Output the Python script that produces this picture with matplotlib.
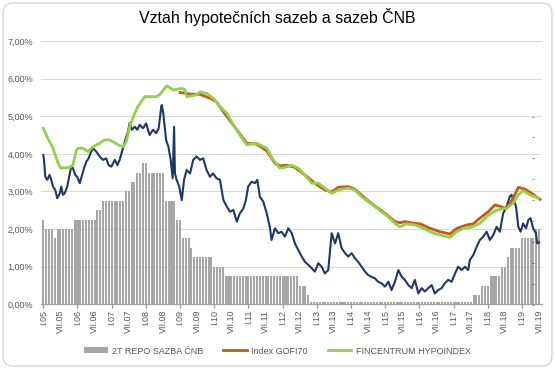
import numpy as np
import matplotlib
matplotlib.use("Agg")
import matplotlib.pyplot as plt
from matplotlib.patches import FancyBboxPatch, Patch
from matplotlib.lines import Line2D
from matplotlib.ticker import FuncFormatter

plt.rcParams['font.family'] = ['Liberation Sans', 'DejaVu Sans']

title = "Vztah hypotečních sazeb a sazeb ČNB"
series_names = ["2T REPO SAZBA ČNB", "Index GOFI70", "FINCENTRUM HYPOINDEX"]

# month index 0 = January 2005
x_tick_labels = ["I.05", "VII.05", "I.06", "VII.06", "I.07", "VII.07", "I.08", "VII.08",
                 "I.09", "VII.09", "I.10", "VII.10", "I.11", "VII.11", "I.12", "VII.12",
                 "I.13", "VII.13", "I.14", "VII.14", "I.15", "VII.15", "I.16", "VII.16",
                 "I.17", "VII.17", "I.18", "VII.18", "I.19", "VII.19"]
x_tick_months = [0, 6, 12, 18, 24, 30, 36, 42, 48, 54, 60, 66, 72, 78, 84, 90, 96, 102,
                 108, 114, 120, 126, 132, 138, 144, 150, 156, 162, 168, 174]
year_start_months = [0, 12, 24, 36, 48, 60, 72, 84, 96, 108, 120, 132, 144, 156, 168]

# 2T repo rate, monthly (Jan 2005 .. Jul 2019)
repo = [
    2.25, 2.00, 2.00, 2.00, 1.75, 2.00, 2.00, 2.00, 2.00, 2.00, 2.00, 2.25,  # 2005
    2.25, 2.25, 2.25, 2.25, 2.25, 2.25, 2.25, 2.50, 2.50, 2.75, 2.75, 2.75,  # 2006
    2.75, 2.75, 2.75, 2.75, 2.75, 3.00, 3.00, 3.25, 3.25, 3.50, 3.50, 3.75,  # 2007
    3.75, 3.50, 3.50, 3.50, 3.50, 3.50, 3.50, 2.75, 2.75, 2.75, 2.75, 2.25,  # 2008
    2.25, 1.75, 1.75, 1.75, 1.50, 1.25, 1.25, 1.25, 1.25, 1.25, 1.25, 1.25,  # 2009
    1.00, 1.00, 1.00, 1.00, 0.75, 0.75, 0.75, 0.75, 0.75, 0.75, 0.75, 0.75,  # 2010
    0.75, 0.75, 0.75, 0.75, 0.75, 0.75, 0.75, 0.75, 0.75, 0.75, 0.75, 0.75,  # 2011
    0.75, 0.75, 0.75, 0.75, 0.75, 0.75, 0.50, 0.50, 0.50, 0.25, 0.05, 0.05,  # 2012
    0.05, 0.05, 0.05, 0.05, 0.05, 0.05, 0.05, 0.05, 0.05, 0.05, 0.05, 0.05,  # 2013
    0.05, 0.05, 0.05, 0.05, 0.05, 0.05, 0.05, 0.05, 0.05, 0.05, 0.05, 0.05,  # 2014
    0.05, 0.05, 0.05, 0.05, 0.05, 0.05, 0.05, 0.05, 0.05, 0.05, 0.05, 0.05,  # 2015
    0.05, 0.05, 0.05, 0.05, 0.05, 0.05, 0.05, 0.05, 0.05, 0.05, 0.05, 0.05,  # 2016
    0.05, 0.05, 0.05, 0.05, 0.05, 0.05, 0.05, 0.25, 0.25, 0.25, 0.50, 0.50,  # 2017
    0.50, 0.75, 0.75, 0.75, 0.75, 1.00, 1.00, 1.25, 1.50, 1.50, 1.50, 1.50,  # 2018
    1.75, 1.75, 1.75, 1.75, 1.75, 2.00, 2.00,                                # 2019
]
repo_months = list(range(len(repo)))

# Fincentrum Hypoindex
green_t = [0.0, 1.6, 3.4, 5.2, 6.1, 9.3, 10.4, 11.6, 12.2, 13.9, 15.7, 17.4, 18.6, 19.8,
           21.5, 23.3, 24.5, 26.2, 28.0, 29.1, 30.3, 32.1, 33.2, 34.4, 35.6, 39.6, 40.8,
           42.6, 43.3, 45.6, 48.6, 49.7, 50.3, 53.8, 55.0, 57.3, 59.6, 62.0, 64.4, 66.7,
           69.0, 71.4, 74.9, 78.4, 80.7, 83.0, 84.8, 87.2, 89.5, 91.8, 94.2, 96.5, 98.8,
           101.2, 103.5, 107.0, 109.4, 111.7, 114.0, 116.4, 118.7, 121.1, 123.4, 125.2,
           127.5, 130.4, 132.2, 135.7, 138.0, 140.4, 142.7, 145.1, 147.4, 150.3, 153.2,
           155.6, 157.9, 160.2, 162.6, 164.9, 166.7, 168.4, 170.8, 173.7]
green_v = [4.68, 4.41, 4.15, 3.75, 3.62, 3.64, 3.70, 4.10, 4.15, 4.15, 4.06, 4.19, 4.24, 4.28,
           4.37, 4.37, 4.32, 4.24, 4.19, 4.32, 4.72, 5.08, 5.26, 5.39, 5.52, 5.52, 5.57,
           5.74, 5.81, 5.70, 5.74, 5.70, 5.52, 5.57, 5.65, 5.61, 5.48, 5.26, 5.08, 4.77,
           4.50, 4.24, 4.28, 4.15, 3.84, 3.62, 3.64, 3.70, 3.62, 3.44, 3.22, 3.22, 3.09,
           2.95, 3.04, 3.09, 3.04, 2.86, 2.73, 2.60, 2.46, 2.33, 2.15, 2.06,
           2.14, 2.11, 2.06, 1.93, 1.87, 1.82, 1.78, 1.93, 2.02, 2.05, 2.15,
           2.33, 2.46, 2.53, 2.55, 2.69, 2.91, 3.02, 2.91, 2.82]

# Index GOFI70
orange_t = [48.0, 51.5, 55.0, 58.5, 60.8, 63.2, 67.9, 71.4, 74.9, 78.4, 81.3, 83.0, 85.4,
            88.3, 91.8, 95.3, 98.8, 101.2, 103.5, 107.0, 109.4, 112.9, 116.4, 119.9, 123.4,
            125.2, 126.9, 130.4, 132.2, 135.7, 139.2, 142.7, 145.1, 148.6, 150.9, 153.2,
            156.1, 158.5, 160.2, 162.0, 163.9, 165.7, 166.7, 169.1, 171.4, 174.3]
orange_v = [5.63, 5.59, 5.58, 5.48, 5.38, 5.12, 4.64, 4.28, 4.26, 4.08, 3.75, 3.68, 3.70,
            3.64, 3.44, 3.22, 3.04, 2.99, 3.11, 3.13, 3.06, 2.82, 2.61, 2.42, 2.20,
            2.17, 2.20, 2.15, 2.14, 2.02, 1.93, 1.87, 2.02, 2.11, 2.14, 2.29,
            2.46, 2.64, 2.61, 2.55, 2.69, 2.95, 3.11, 3.06, 2.95, 2.79]

# unnamed dark blue series (market rate)
blue_t = [0.0, 0.25, 0.7, 1.4, 2.2, 2.8, 3.4, 4.2, 4.9, 5.8, 6.3, 6.9, 7.5, 8.4, 9.3, 9.8,
          10.4, 11.2, 11.9, 12.8, 13.3, 14.3, 15.1, 15.9, 16.6, 17.4, 18.6, 19.8, 20.9,
          22.1, 22.9, 23.9, 25.1, 26.0, 26.8, 27.6, 28.8, 29.7, 30.3, 31.1, 32.1, 33.0,
          33.8, 35.0, 36.1, 37.3, 38.5, 39.6, 40.5, 41.4, 41.6, 42.1, 43.1, 43.9, 44.7,
          45.4, 45.9, 46.2, 46.8, 47.7, 48.6, 49.4, 50.3, 51.5, 52.6, 53.8, 55.0, 56.1,
          57.3, 58.5, 59.6, 60.8, 62.0, 63.2, 64.4, 65.5, 66.7, 67.9, 69.0, 70.2, 71.1,
          71.9, 73.1, 74.3, 75.1, 76.0, 77.2, 78.4, 79.5, 80.1, 81.3, 82.5, 83.6, 84.8,
          86.0, 87.2, 88.3, 89.5, 90.7, 91.8, 93.0, 94.2, 95.3, 96.5, 97.7, 98.8, 100.0,
          101.2, 102.4, 103.5, 104.7, 105.9, 107.0, 108.2, 109.4, 110.5, 111.7, 112.9,
          114.0, 115.2, 116.4, 117.5, 118.7, 119.9, 121.1, 122.2, 123.4, 124.6, 125.8,
          126.9, 128.1, 129.3, 130.4, 131.6, 132.8, 133.9, 135.1, 136.3, 137.4, 138.6,
          139.8, 140.9, 142.1, 143.3, 144.5, 145.6, 146.8, 148.0, 149.1, 149.7, 150.9,
          152.1, 153.2, 154.4, 155.6, 156.7, 157.9, 159.1, 160.2, 161.4, 162.6, 163.7,
          164.3, 165.1, 165.9, 166.7, 167.5, 168.4, 169.4, 170.2, 171.0, 171.9, 172.9,
          173.3, 174.0]
blue_v = [3.97, 3.84, 3.39, 3.31, 3.44, 3.31, 3.13, 3.04, 2.82, 2.95, 3.13, 2.91, 2.95, 3.13,
          3.48, 3.66, 3.62, 3.44, 3.39, 3.22, 3.35, 3.62, 3.79, 3.88, 4.02, 4.15, 4.06,
          3.93, 3.84, 3.88, 3.70, 3.66, 3.84, 3.70, 3.84, 4.06, 4.37, 4.59, 4.81, 4.64,
          4.72, 4.64, 4.77, 4.68, 4.81, 4.50, 4.64, 4.55, 4.68, 5.26, 5.30, 5.08, 4.37,
          4.19, 3.84, 3.35, 4.72, 3.48, 3.31, 3.13, 2.77, 3.31, 3.57, 3.48, 3.84, 3.93,
          3.84, 3.88, 3.57, 3.39, 3.48, 3.35, 3.31, 2.77, 2.60, 2.46, 2.51, 2.20, 2.42,
          2.55, 2.77, 3.13, 3.26, 3.22, 3.31, 2.86, 2.73, 2.42, 2.06, 1.71, 2.02, 1.89,
          1.93, 1.80, 2.02, 1.89, 1.62, 1.44, 1.27, 1.13, 1.05, 0.96, 0.87, 1.09, 1.00,
          0.82, 0.91, 1.89, 1.62, 1.89, 1.49, 1.36, 1.27, 1.36, 1.22, 1.13, 1.00, 0.87,
          0.78, 0.73, 0.69, 0.60, 0.56, 0.47, 0.60, 0.38, 0.60, 0.91, 0.73, 0.65, 0.51,
          0.43, 0.65, 0.29, 0.43, 0.34, 0.43, 0.51, 0.29, 0.38, 0.43, 0.56, 0.65, 0.60,
          0.82, 1.00, 0.91, 1.00, 0.91, 1.18, 1.31, 1.53, 1.71, 1.80, 1.93, 1.71, 1.84,
          2.06, 1.93, 2.42, 2.60, 2.86, 2.91, 2.77, 2.60, 2.06, 1.93, 2.15, 2.02, 2.24,
          2.29, 2.02, 1.89, 1.62, 1.65]

TEXT = '#595959'
fig = plt.figure(figsize=(5.55, 3.69), dpi=100)
fig.patches.append(FancyBboxPatch((3 / 555, 3 / 369), 549 / 555, 363 / 369,
                                  boxstyle="round,pad=0,rounding_size=0.018",
                                  mutation_aspect=555 / 369,
                                  transform=fig.transFigure, fc='white',
                                  ec='#d0d0d0', lw=0.9, zorder=-10))

ax = fig.add_axes([0.0744, 0.1753, 0.9016, 0.7136])
ax.set_facecolor('none')
ax.set_xlim(-0.7, 174.9)
ax.set_ylim(0, 7)

ax.bar(repo_months, repo, width=0.72, color='#a6a6a6', zorder=2)
ax.plot(blue_t, blue_v, color='#1f3864', lw=1.5, zorder=3)
ax.plot(orange_t, orange_v, color='#c55a11', lw=2.0, zorder=4, solid_joinstyle='round')
ax.plot(green_t, green_v, color='#92d050', lw=2.0, zorder=5, solid_joinstyle='round')

ax.set_yticks(range(0, 8))
ax.yaxis.set_major_formatter(FuncFormatter(lambda v, p: f"{v:.2f}%".replace('.', ',')))
ax.grid(axis='y', color='#d9d9d9', lw=0.75, zorder=0)
ax.set_axisbelow(True)
for s in ('top', 'right', 'left'):
    ax.spines[s].set_visible(False)
ax.spines['bottom'].set_color('#a0a0a0')
ax.spines['bottom'].set_linewidth(0.9)
ax.tick_params(axis='y', length=0, pad=6, labelsize=6.5, labelcolor=TEXT)

ax.set_xticks(x_tick_months)
ax.set_xticklabels(x_tick_labels, rotation=90, fontsize=6.5, color=TEXT)
ax.tick_params(axis='x', which='major', length=0, pad=4)
ax.xaxis.remove_overlapping_locs = False
ax.set_xticks(year_start_months, minor=True)
ax.tick_params(axis='x', which='minor', length=3, color='#a0a0a0', width=0.9)

ax2 = ax.twinx()
ax2.set_ylim(0, 7)
ax2.set_yticks(np.linspace(0, 5, 10))
ax2.set_yticklabels(['-'] * 10)
ax2.tick_params(axis='y', length=0, pad=-7, labelsize=6, labelcolor='#404040')
for s in ax2.spines.values():
    s.set_visible(False)

fig.text(0.5, 1 - 17 / 369, title, ha='center', va='center', fontsize=11.5, color='#000000')

handles = [Patch(facecolor='#a6a6a6', edgecolor='none'),
           Line2D([], [], color='#c55a11', lw=2),
           Line2D([], [], color='#92d050', lw=2)]
fig.legend(handles, series_names, loc='center', bbox_to_anchor=(0.5, 1 - 351 / 369),
           ncol=3, frameon=False, fontsize=6.5, labelcolor=TEXT, handlelength=2.6,
           handleheight=0.6, columnspacing=2.2, handletextpad=0.5)

fig.savefig('out.png', dpi=100)
